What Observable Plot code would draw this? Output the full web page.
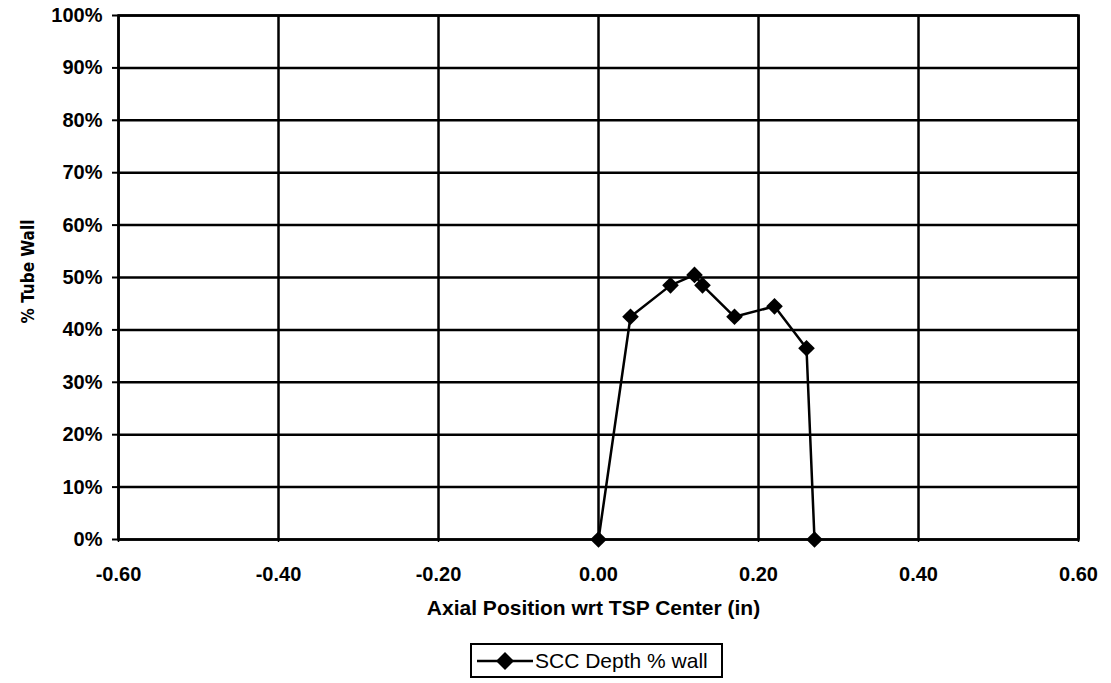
<!DOCTYPE html>
<html>
<head>
<meta charset="utf-8">
<script src="https://cdn.jsdelivr.net/npm/d3@7"></script>
<script src="https://cdn.jsdelivr.net/npm/@observablehq/plot@0.6"></script>
<style>
  html, body { margin: 0; padding: 0; background: #fff; }
  body { width: 1111px; font-family: "Liberation Sans", Arial, sans-serif; }
  #legend {
    margin-left: 470px; margin-top: 11px;
    width: 253px; height: 35px; box-sizing: border-box;
    border: 2px solid #000; display: flex; align-items: center;
    padding-left: 5px; font-size: 21px; color: #000;
  }
  #legend svg { margin-right: 2px; }
  .ylabel text { font-stretch: condensed; }
</style>
</head>
<body>
<div id="chart"></div>
<div id="legend">
  <svg width="56" height="20" viewBox="0 0 56 20">
    <line x1="0" y1="10" x2="56" y2="10" stroke="#000" stroke-width="2.5"></line>
    <polygon points="28,1 37,10 28,19 19,10" fill="#000"></polygon>
  </svg>
  <span>SCC Depth % wall</span>
</div>
<script>
// Axial position of each SCC depth reading (in) and depth as % of tube wall
const axialPosition = [0.00, 0.04, 0.09, 0.12, 0.13, 0.17, 0.22, 0.26, 0.27];
const sccDepth = [0, 42.5, 48.5, 50.5, 48.5, 42.5, 44.5, 36.5, 0];

const xTicks = [-0.6, -0.4, -0.2, 0, 0.2, 0.4, 0.6];
const yTicks = [0, 10, 20, 30, 40, 50, 60, 70, 80, 90, 100];
const xTitle = "Axial Position wrt TSP Center (in)";
const yTitle = "% Tube Wall";

const data = axialPosition.map((x, i) => ({x, y: sccDepth[i]}));

const chart = Plot.plot({
  width: 1111,
  height: 632,
  marginLeft: 118,
  marginRight: 33,
  marginTop: 15,
  marginBottom: 93,
  style: {fontFamily: "'Liberation Sans', Arial, sans-serif", fontSize: "20px", fontWeight: "bold", color: "#000", background: "#fff"},
  x: {domain: [-0.6, 0.6]},
  y: {domain: [0, 100]},
  marks: [
    Plot.ruleY(yTicks, {stroke: "#000", strokeWidth: 2.5}),
    Plot.ruleX(xTicks, {stroke: "#000", strokeWidth: 2.5}),
    Plot.frame({stroke: "#000", strokeWidth: 2.5}),
    Plot.axisY(yTicks, {tickSize: 6, tickPadding: 10, strokeWidth: 2, tickFormat: d => d + "%", label: null}),
    Plot.axisX(xTicks, {tickSize: 3, tickPadding: 24, strokeWidth: 1.5, tickFormat: d => d.toFixed(2), label: null}),
    Plot.line(data, {x: "x", y: "y", stroke: "#000", strokeWidth: 2.5}),
    Plot.dot(data, {x: "x", y: "y", symbol: "diamond2", r: 7.5, fill: "#000", stroke: "none"}),
    Plot.text([xTitle], {frameAnchor: "bottom", dy: 75, dx: -5, fontSize: 21, fontWeight: "bold"}),
    Plot.text([yTitle], {frameAnchor: "left", textAnchor: "middle", dx: -90, dy: -6, rotate: -90, fontSize: 17, fontWeight: "bold",
      fontFamily: "'DejaVu Sans Condensed', 'DejaVu Sans', sans-serif", className: "ylabel"})
  ]
});
document.getElementById("chart").append(chart);
</script>
</body>
</html>
